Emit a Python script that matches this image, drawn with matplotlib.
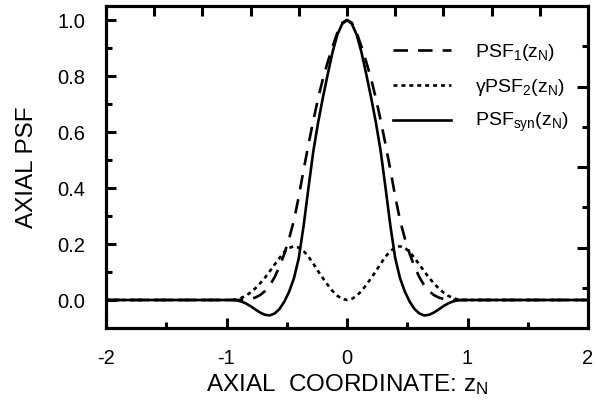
import numpy as np
import matplotlib
matplotlib.use("Agg")
import matplotlib.pyplot as plt
from matplotlib.ticker import MultipleLocator, FixedLocator, NullFormatter

plt.rcParams['font.family'] = ['Liberation Sans', 'DejaVu Sans']
plt.rcParams['mathtext.fontset'] = 'custom'
plt.rcParams['mathtext.rm'] = 'Liberation Sans'
plt.rcParams['mathtext.it'] = 'Liberation Sans'

# axial coordinate grid
z = [-2.00,
     -0.96, -0.92, -0.88, -0.84, -0.80, -0.76, -0.72, -0.68, -0.64, -0.60,
     -0.56, -0.52, -0.48, -0.44, -0.40, -0.36, -0.32, -0.28, -0.24, -0.20,
     -0.16, -0.12, -0.08, -0.04, 0.00, 0.04, 0.08, 0.12, 0.16, 0.20,
     0.24, 0.28, 0.32, 0.36, 0.40, 0.44, 0.48, 0.52, 0.56, 0.60,
     0.64, 0.68, 0.72, 0.76, 0.80, 0.84, 0.88, 0.92, 0.96,
     2.00]

psf1 = [0.0,
        0.0, 0.0, 0.0005, 0.0015, 0.004, 0.009, 0.018, 0.032, 0.053, 0.082,
        0.120, 0.165, 0.220, 0.285, 0.370, 0.465, 0.555, 0.640, 0.720, 0.790,
        0.850, 0.905, 0.955, 0.990, 1.000, 0.990, 0.955, 0.905, 0.850, 0.790,
        0.720, 0.640, 0.555, 0.465, 0.370, 0.285, 0.220, 0.165, 0.120, 0.082,
        0.053, 0.032, 0.018, 0.009, 0.004, 0.0015, 0.0005, 0.0, 0.0,
        0.0]

psf2 = [0.0,
        0.0, 0.002, 0.007, 0.015, 0.027, 0.042, 0.060, 0.080, 0.103, 0.127,
        0.150, 0.172, 0.186, 0.192, 0.187, 0.175, 0.155, 0.130, 0.103, 0.078,
        0.054, 0.032, 0.015, 0.004, 0.000, 0.004, 0.015, 0.032, 0.054, 0.078,
        0.103, 0.130, 0.155, 0.175, 0.187, 0.192, 0.186, 0.172, 0.150, 0.127,
        0.103, 0.080, 0.060, 0.042, 0.027, 0.015, 0.007, 0.002, 0.0,
        0.0]

psf_syn = [0.0,
           0.0, -0.001, -0.005, -0.012, -0.022, -0.034, -0.045, -0.053, -0.055, -0.048,
           -0.032, -0.006, 0.030, 0.078, 0.150, 0.265, 0.400, 0.530, 0.633, 0.723,
           0.806, 0.885, 0.948, 0.986, 1.000, 0.986, 0.948, 0.885, 0.806, 0.723,
           0.633, 0.530, 0.400, 0.265, 0.150, 0.078, 0.030, -0.006, -0.032, -0.048,
           -0.055, -0.053, -0.045, -0.034, -0.022, -0.012, -0.005, -0.001, 0.0,
           0.0]

labels = [r"PSF$_\mathregular{1}$(z$_\mathregular{N}$)",
          r"γPSF$_\mathregular{2}$(z$_\mathregular{N}$)",
          r"PSF$_\mathregular{syn}$(z$_\mathregular{N}$)"]

fig = plt.figure(figsize=(5.96, 4.03), dpi=100)
ax = fig.add_axes([106/596, 1-328/403, 482/596, 322/403])

lw = 1.9
ax.plot(z, psf1, color='black', lw=lw, linestyle=(0, (5.5, 3.8)), label=labels[0])
ax.plot(z, psf2, color='black', lw=lw, linestyle=(0, (1.5, 1.5)), label=labels[1])
ax.plot(z, psf_syn, color='black', lw=lw, linestyle='solid', label=labels[2])

ax.set_xlim(-2, 2)
ax.set_ylim(-0.1, 1.05)
ax.xaxis.set_major_locator(MultipleLocator(1))
ax.xaxis.set_minor_locator(MultipleLocator(0.5))
ax.yaxis.set_major_locator(FixedLocator([0.0, 0.2, 0.4, 0.6, 0.8, 1.0]))
ax.yaxis.set_minor_locator(FixedLocator([0.1, 0.3, 0.5, 0.7, 0.9]))
ax.xaxis.set_major_formatter(matplotlib.ticker.FuncFormatter(lambda v, p: f"{v:.0f}"))
ax.yaxis.set_major_formatter(matplotlib.ticker.FuncFormatter(lambda v, p: f"{v:.1f}"))
ax.tick_params(which='both', direction='in', width=2.2, top=False, right=False)
ax.tick_params(which='major', length=7, labelsize=14.5, pad=15)
ax.tick_params(which='minor', length=4)

# extra tick marks on the top and right frames
ax_r = ax.twinx()
ax_r.set_ylim(0, 8)
ax_r.yaxis.set_major_locator(FixedLocator([2, 4, 6]))
ax_r.yaxis.set_minor_locator(FixedLocator([1, 3, 5, 7]))
ax_r.yaxis.set_major_formatter(NullFormatter())
ax_r.tick_params(which='both', direction='in', width=2.2)
ax_r.tick_params(which='major', length=8)
ax_r.tick_params(which='minor', length=4)

ax_t = ax.twiny()
ax_t.set_xlim(0, 10)
ax_t.xaxis.set_major_locator(FixedLocator(list(range(1, 10))))
ax_t.xaxis.set_major_formatter(NullFormatter())
ax_t.tick_params(which='both', direction='in', width=2.2, length=7)

for a in (ax, ax_r, ax_t):
    for s in a.spines.values():
        s.set_linewidth(2.2)

ax.set_xlabel("AXIAL  COORDINATE: z$_\\mathregular{N}$", fontsize=17.5, labelpad=3)
ax.set_ylabel("AXIAL PSF", fontsize=17.5, labelpad=14)

ax.legend(loc='upper left', bbox_to_anchor=(393/596, 1-42/403),
          bbox_transform=fig.transFigure, frameon=False, fontsize=14,
          handlelength=3.0, handletextpad=1.2, labelspacing=0.7,
          borderpad=0, borderaxespad=0)

fig.savefig("out.png", dpi=100)
